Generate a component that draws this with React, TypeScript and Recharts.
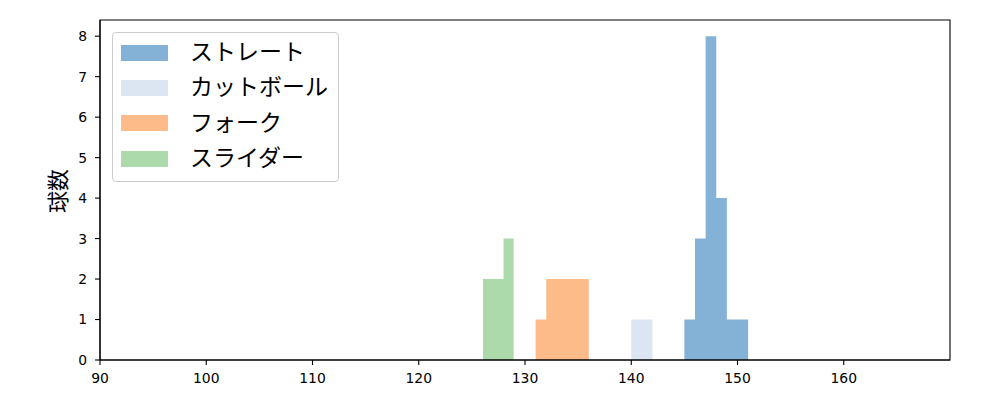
import React from 'react';
import { ComposedChart, Area, XAxis, YAxis, Legend, ReferenceArea } from 'recharts';

const seriesNames = ['ストレート', 'カットボール', 'フォーク', 'スライダー'];
const seriesColors = ['#84b2d6', '#dbe6f2', '#fdbb8a', '#acdaab'];

// histogram bin edges and counts per pitch type
const straightEdges = [145, 146, 147, 148, 149, 150, 151];
const straightCounts = [1, 3, 8, 4, 1, 1];
const cutEdges = [140, 141, 142];
const cutCounts = [1, 1];
const forkEdges = [131, 132, 133, 134, 135, 136];
const forkCounts = [1, 2, 2, 2, 2];
const sliderEdges = [126.05, 127.0, 127.98, 128.93];
const sliderCounts = [2, 2, 3];

const xTicks = [90, 100, 110, 120, 130, 140, 150, 160];
const yTicks = [0, 1, 2, 3, 4, 5, 6, 7, 8];
const xDomain = [90, 170];
const yDomain = [0, 8.4];

function toSteps(edges: number[], counts: number[]) {
  return edges.map((e, i) => ({ x: e, y: i < counts.length ? counts[i] : 0 }));
}

const seriesData = [
  toSteps(straightEdges, straightCounts),
  toSteps(cutEdges, cutCounts),
  toSteps(forkEdges, forkCounts),
  toSteps(sliderEdges, sliderCounts),
];

const tickStyle = { fontFamily: '"DejaVu Sans", sans-serif', fontSize: 13.9, fill: '#000' };

function LegendBox() {
  return (
    <div
      style={{
        width: 227,
        height: 150,
        boxSizing: 'border-box',
        border: '1px solid #cccccc',
        borderRadius: 4,
        background: 'rgba(255,255,255,0.8)',
        paddingTop: 2,
        fontFamily: '"Noto Sans CJK JP", sans-serif',
        fontSize: 23,
        color: '#000',
      }}
    >
      {seriesNames.map((n, i) => (
        <div key={n} style={{ height: 35.3, display: 'flex', alignItems: 'center', position: 'relative' }}>
          <div style={{ position: 'absolute', left: 8, width: 47, height: 16, background: seriesColors[i] }} />
          <span style={{ position: 'absolute', left: 77, top: -2, lineHeight: '35px', whiteSpace: 'nowrap' }}>{n}</span>
        </div>
      ))}
    </div>
  );
}

export default function App() {
  return (
    <div style={{ position: 'absolute', left: 0, top: 0, width: 1000, height: 400, background: '#fff' }}>
      <ComposedChart width={1000} height={400} margin={{ top: 20, right: 50, bottom: 0, left: 50 }}>
        <XAxis
          type="number"
          dataKey="x"
          domain={xDomain}
          ticks={xTicks}
          allowDataOverflow
          height={40}
          tickSize={5}
          tickMargin={8}
          tick={tickStyle}
          stroke="#000"
          axisLine={{ stroke: '#000', strokeWidth: 1.1 }}
          tickLine={{ stroke: '#000', strokeWidth: 1.1 }}
        />
        <YAxis
          type="number"
          domain={yDomain}
          ticks={yTicks}
          allowDataOverflow
          width={50}
          tickSize={5}
          tickMargin={8}
          tick={tickStyle}
          stroke="#000"
          axisLine={{ stroke: '#000', strokeWidth: 1.1 }}
          tickLine={{ stroke: '#000', strokeWidth: 1.1 }}
          label={{
            content: () => (
              <text
                x={56}
                y={191}
                transform="rotate(-90 56 191)"
                textAnchor="middle"
                dominantBaseline="central"
                style={{ fontFamily: '"Noto Sans CJK JP", sans-serif', fontSize: 22, fill: '#000' }}
              >
                球数
              </text>
            ),
          }}
        />
        {seriesData.map((d, i) => (
          <Area
            key={seriesNames[i]}
            name={seriesNames[i]}
            data={d}
            dataKey="y"
            type="stepAfter"
            stroke="none"
            fill={seriesColors[i]}
            fillOpacity={1}
            isAnimationActive={false}
            dot={false}
            activeDot={false}
          />
        ))}
        <ReferenceArea
          x1={xDomain[0]}
          x2={xDomain[1]}
          y1={yDomain[0]}
          y2={yDomain[1]}
          fill="none"
          fillOpacity={0}
          stroke="#000"
          strokeWidth={1.1}
          ifOverflow="visible"
        />
        <Legend
          layout="horizontal"
          verticalAlign="middle"
          align="center"
          wrapperStyle={{ position: 'absolute', left: 112, top: 32, width: 227, height: 150 }}
          content={() => <LegendBox />}
        />
      </ComposedChart>
    </div>
  );
}
